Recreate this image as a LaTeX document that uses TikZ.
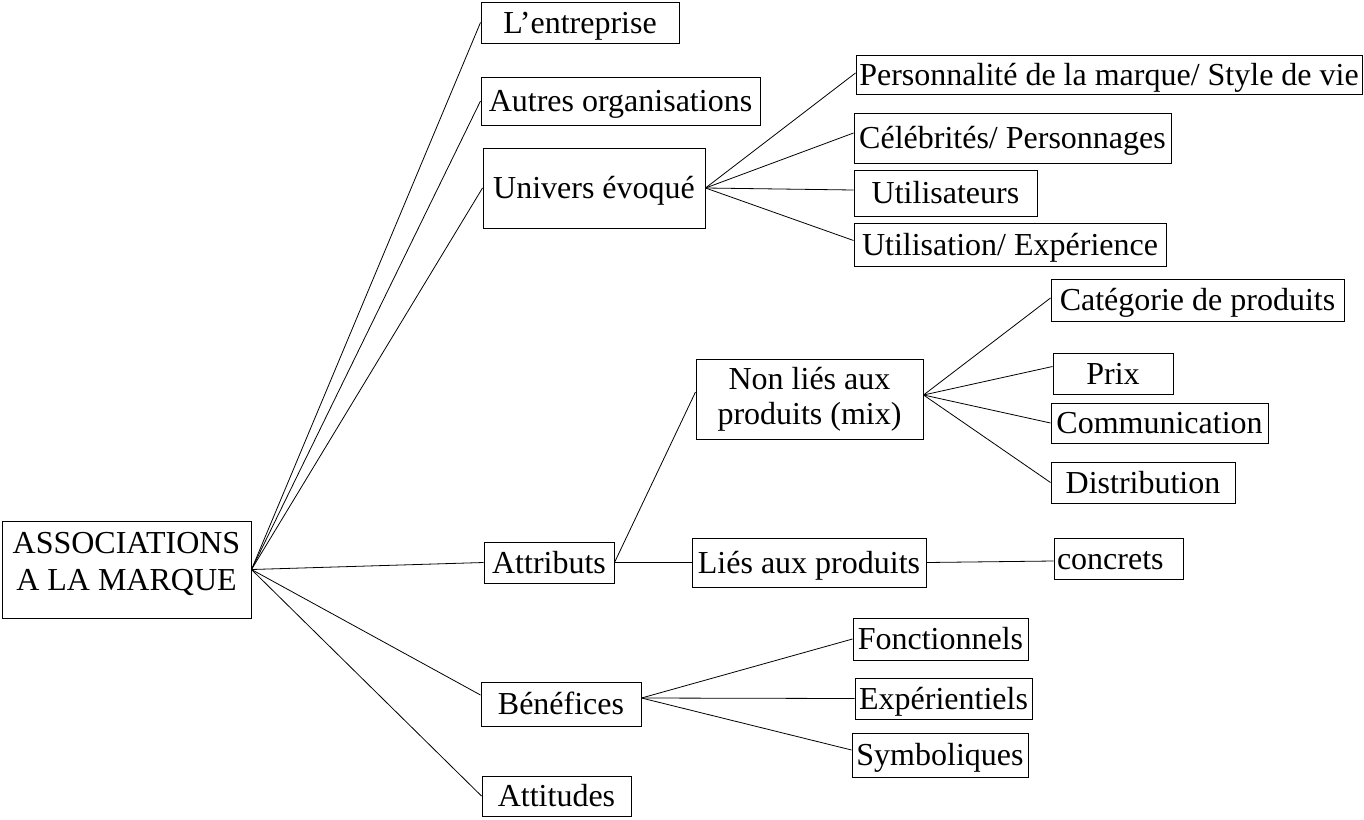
\documentclass[tikz,border=0pt]{standalone}
\usepackage{fontspec}
\setmainfont{Liberation Serif}
\begin{document}
\begin{tikzpicture}[x=1pt,y=-1pt,
  bx/.style={draw, line width=1pt, inner sep=0pt, font=\fontsize{32}{36}\selectfont},
  sl/.style={bx, text height=25pt, text depth=4pt},
  cn/.style={line width=0.8pt}]
\useasboundingbox (0,0) rectangle (1364,819);
% level 0
\node[bx, minimum width=249pt, minimum height=97pt,
  label={[name=assoct, align=center, font=\fontsize{32}{37}\selectfont, yshift=6pt]center:ASSOCIATIONS\\A LA MARQUE}] (assoc) at (126.5,569.5) {};
% level 1
\node[sl, minimum width=198pt, minimum height=41pt] (ent) at (580,22.5) {L’entreprise};
\node[sl, minimum width=279pt, minimum height=48pt] (autres) at (620.5,101) {Autres organisations};
\node[sl, minimum width=222pt, minimum height=80pt] (univers) at (594,188) {Univers évoqué};
\node[sl, minimum width=130pt, minimum height=41pt] (attributs) at (549,562.5) {Attributs};
\node[sl, minimum width=160pt, minimum height=44pt] (benef) at (561,704) {Bénéfices};
\node[sl, minimum width=149pt, minimum height=40pt] (attitudes) at (556.5,796) {Attitudes};
% univers children
\node[sl, minimum width=506pt, minimum height=39pt] (perso) at (1109,74.5) {Personnalité de la marque/ Style de vie};
\node[sl, minimum width=317pt, minimum height=50pt] (celeb) at (1012.5,138) {Célébrités/ Personnages};
\node[sl, minimum width=183pt, minimum height=46pt] (utilisateurs) at (945.5,193) {Utilisateurs};
\node[sl, minimum width=312pt, minimum height=43pt] (utilisation) at (1010,244.5) {Utilisation/ Expérience};
% attributs children
\node[bx, align=center, minimum width=227pt, minimum height=80pt, font=\fontsize{32}{35}\selectfont] (nonlies) at (809.5,399) {Non liés aux\\produits (mix)};
\node[sl, minimum width=234pt, minimum height=49pt] (lies) at (809,562.5) {Liés aux produits};
% non lies children
\node[sl, minimum width=293pt, minimum height=42pt] (categorie) at (1197.5,300) {Catégorie de produits};
\node[sl, minimum width=120pt, minimum height=41pt] (prix) at (1113,373.5) {Prix};
\node[sl, minimum width=217pt, minimum height=40pt] (comm) at (1159.5,423) {Communication};
\node[sl, minimum width=184pt, minimum height=41pt] (distrib) at (1143,482.5) {Distribution};
% lies child
\node[sl, text width=123pt, inner xsep=3pt, align=left, minimum height=41pt] (concrets) at (1118.5,558.5) {concrets};
% benefices children
\node[sl, minimum width=175pt, minimum height=42pt] (fonct) at (940.5,639) {Fonctionnels};
\node[sl, minimum width=177pt, minimum height=41pt] (exper) at (943.5,698.5) {Expérientiels};
\node[sl, minimum width=176pt, minimum height=44pt] (symb) at (940,755) {Symboliques};
% connectors
\foreach \t in {ent,autres,univers,attributs,attitudes}
  \draw[cn] (assoc.east) -- (\t.west);
\draw[cn] (assoc.east) -- ([yshift=9pt]benef.west);
\draw[cn] (univers.east) -- ([yshift=1.5pt]perso.west);
\draw[cn] (univers.east) -- ([yshift=5pt]celeb.west);
\draw[cn] (univers.east) -- ([yshift=3pt]utilisateurs.west);
\draw[cn] (univers.east) -- ([yshift=4pt]utilisation.west);
\draw[cn] (attributs.east) -- ([yshift=7pt]nonlies.west);
\draw[cn] (attributs.east) -- (lies.west);
\draw[cn] ([yshift=4pt]nonlies.east) -- ([yshift=2pt]categorie.west);
\draw[cn] ([yshift=4pt]nonlies.east) -- ([yshift=7pt]prix.west);
\draw[cn] ([yshift=4pt]nonlies.east) -- (comm.west);
\draw[cn] ([yshift=4pt]nonlies.east) -- (distrib.west);
\draw[cn] (lies.east) -- ([yshift=-2.5pt]concrets.west);
\draw[cn] ([yshift=6pt]benef.east) -- (fonct.west);
\draw[cn] ([yshift=6pt]benef.east) -- (exper.west);
\draw[cn] ([yshift=6pt]benef.east) -- ([yshift=5pt]symb.west);
\end{tikzpicture}
\end{document}
